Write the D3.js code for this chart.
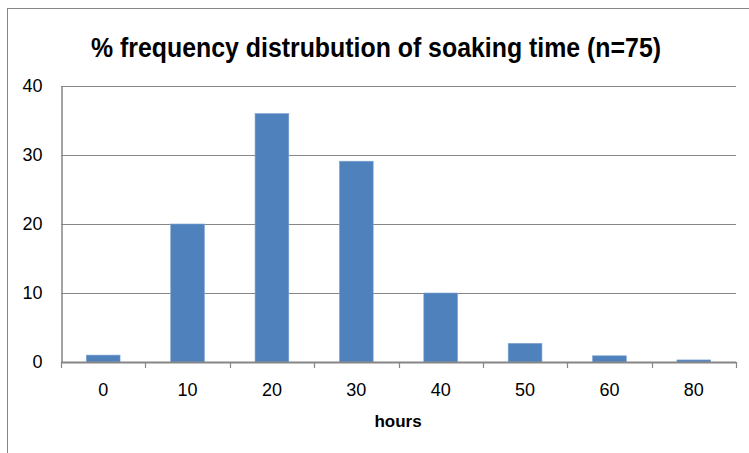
<!DOCTYPE html>
<html><head><meta charset="utf-8">
<script src="https://cdn.jsdelivr.net/npm/d3@7"></script>
<style>body{margin:0;background:#fff}svg{display:block}</style>
</head><body>
<svg id="c" width="749" height="453"></svg>
<script>
const categories = ["0","10","20","30","40","50","60","80"];
const values = [1.0, 20.0, 36.0, 29.1, 10.0, 2.7, 0.9, 0.3];
const yTicks = [0, 10, 20, 30, 40];
const title = "% frequency distrubution of soaking time (n=75)";
const xTitle = "hours";

const svg = d3.select("#c");
const font = "'Liberation Sans', Arial, sans-serif";
const gray = "#868686";
const L = 61, R = 736, T = 86, B = 362;

svg.append("rect").attr("x", 7.5).attr("y", 8.5).attr("width", 760).attr("height", 460)
  .attr("fill", "none").attr("stroke", gray).attr("stroke-width", 1);

const x = d3.scaleBand().domain(categories).range([L, R]).paddingInner(0.6).paddingOuter(0.3);
const y = d3.scaleLinear().domain([0, 40]).range([B, T]);

// gridlines
svg.append("g").selectAll("line").data(yTicks.filter(d => d > 0)).join("line")
  .attr("x1", L).attr("x2", R).attr("y1", d => Math.round(y(d)) + 0.5).attr("y2", d => Math.round(y(d)) + 0.5)
  .attr("stroke", gray).attr("stroke-width", 1);

// bars
svg.append("g").selectAll("rect").data(values).join("rect")
  .attr("x", (d, i) => x(categories[i])).attr("width", x.bandwidth())
  .attr("y", d => y(d)).attr("height", d => B - y(d))
  .attr("fill", "#4F81BD").attr("stroke", "#7FA3D1").attr("stroke-width", 0.6);

// y axis
const yAxis = d3.axisLeft(y).tickValues(yTicks).tickSize(0).tickPadding(19);
const gy = svg.append("g").attr("transform", `translate(${L + 0.5},0)`).call(yAxis);
gy.select(".domain").attr("stroke", gray).attr("stroke-width", 1.5);
gy.selectAll("text").attr("font-family", font).attr("font-size", 18).attr("fill", "#000");

// x axis
const boundaries = d3.range(categories.length + 1).map(i => L + i * (R - L) / categories.length);
svg.append("line").attr("x1", L).attr("x2", R).attr("y1", B + 0.5).attr("y2", B + 0.5)
  .attr("stroke", gray).attr("stroke-width", 2);
svg.append("g").selectAll("line").data(boundaries).join("line")
  .attr("x1", d => Math.round(d) + 0.5).attr("x2", d => Math.round(d) + 0.5)
  .attr("y1", B).attr("y2", B + 6).attr("stroke", gray).attr("stroke-width", 1.2);
svg.append("g").selectAll("text").data(categories).join("text")
  .attr("x", d => x(d) + x.bandwidth() / 2).attr("y", 396)
  .attr("text-anchor", "middle").attr("font-family", font).attr("font-size", 18).attr("fill", "#000")
  .text(d => d);

svg.append("text").attr("x", 398).attr("y", 427).attr("text-anchor", "middle")
  .attr("font-family", font).attr("font-size", 17).attr("font-weight", "bold").text(xTitle);

svg.append("text").attr("x", 376).attr("y", 57).attr("text-anchor", "middle")
  .attr("font-family", font).attr("font-size", 27).attr("font-weight", "bold")
  .attr("textLength", 570).attr("lengthAdjust", "spacingAndGlyphs").text(title);
</script>
</body></html>
